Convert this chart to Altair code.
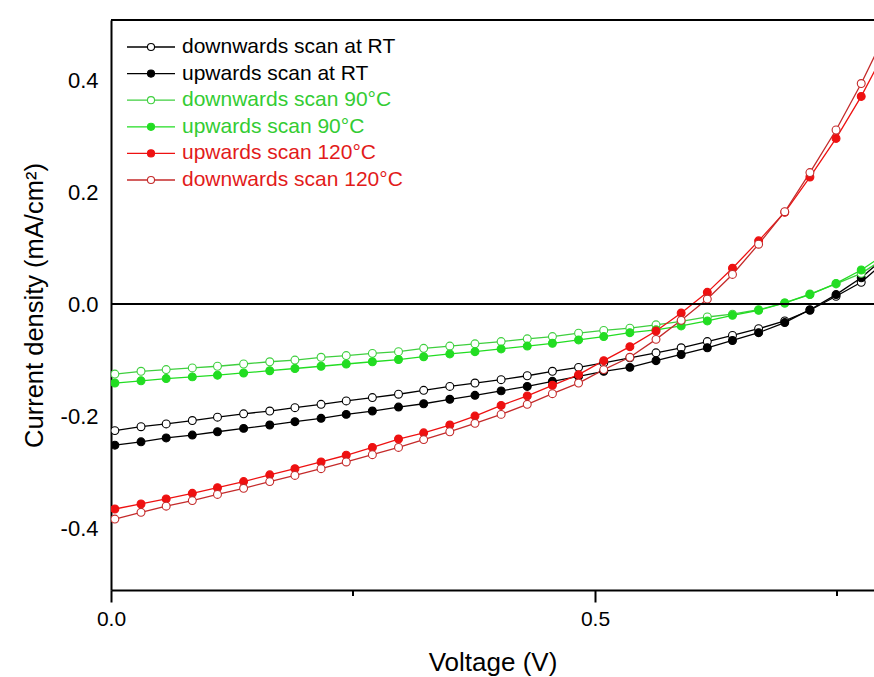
import altair as alt
import pandas as pd

# ---- data -------------------------------------------------------------------
voltage = [0.004, 0.031, 0.057, 0.084, 0.110, 0.137, 0.164, 0.190, 0.217, 0.243,
           0.270, 0.297, 0.323, 0.350, 0.376, 0.403, 0.430, 0.456, 0.483, 0.509,
           0.536, 0.563, 0.589, 0.616, 0.642, 0.669, 0.696, 0.722, 0.749, 0.775,
           0.802]

down_rt = [-0.226, -0.219, -0.214, -0.208, -0.202, -0.196, -0.191, -0.185, -0.179, -0.173,
           -0.167, -0.161, -0.154, -0.147, -0.141, -0.135, -0.128, -0.120, -0.113, -0.105,
           -0.096, -0.087, -0.078, -0.067, -0.056, -0.044, -0.030, -0.011, 0.014, 0.039,
           0.080]
up_rt = [-0.252, -0.246, -0.239, -0.234, -0.228, -0.222, -0.216, -0.210, -0.204, -0.197,
         -0.191, -0.184, -0.178, -0.170, -0.163, -0.155, -0.147, -0.138, -0.129, -0.120,
         -0.113, -0.101, -0.090, -0.078, -0.065, -0.051, -0.033, -0.010, 0.017, 0.047,
         0.088]
down_90 = [-0.125, -0.120, -0.117, -0.114, -0.111, -0.107, -0.103, -0.100, -0.095, -0.092,
           -0.088, -0.085, -0.079, -0.075, -0.071, -0.067, -0.062, -0.058, -0.052, -0.047,
           -0.043, -0.037, -0.031, -0.023, -0.018, -0.010, 0.002, 0.018, 0.036, 0.055,
           0.085]
up_90 = [-0.141, -0.137, -0.133, -0.130, -0.127, -0.123, -0.119, -0.115, -0.111, -0.107,
         -0.103, -0.099, -0.094, -0.089, -0.085, -0.080, -0.075, -0.070, -0.064, -0.058,
         -0.051, -0.046, -0.039, -0.030, -0.020, -0.011, 0.002, 0.017, 0.037, 0.061,
         0.092]
up_120 = [-0.366, -0.357, -0.348, -0.338, -0.328, -0.317, -0.305, -0.294, -0.282, -0.270,
          -0.256, -0.241, -0.230, -0.216, -0.200, -0.181, -0.164, -0.145, -0.126, -0.101,
          -0.076, -0.048, -0.016, 0.021, 0.064, 0.113, 0.164, 0.227, 0.296, 0.371,
          0.460]
down_120 = [-0.384, -0.372, -0.361, -0.351, -0.340, -0.329, -0.317, -0.306, -0.294, -0.282,
            -0.269, -0.256, -0.242, -0.228, -0.213, -0.197, -0.179, -0.160, -0.141, -0.117,
            -0.095, -0.063, -0.029, 0.009, 0.053, 0.107, 0.165, 0.235, 0.311, 0.394,
            0.490]

series_names = ["downwards scan at RT", "upwards scan at RT",
                "downwards scan 90°C", "upwards scan 90°C",
                "upwards scan 120°C", "downwards scan 120°C"]
series_values = [down_rt, up_rt, down_90, up_90, up_120, down_120]
line_colors = ["#000000", "#000000", "#3fcf3f", "#22dd22", "#ee1111", "#c42a2a"]
fill_colors = ["#ffffff", "#000000", "#ffffff", "#22dd22", "#ee1111", "#ffffff"]
text_colors = ["#000000", "#000000", "#33cc33", "#33cc33", "#e21b1b", "#e21b1b"]
x_ticks = [0.0, 0.5]
x_minor_ticks = [0.25, 0.75]
y_ticks = [-0.4, -0.2, 0.0, 0.2, 0.4]

# ---- build tables ------------------------------------------------------------
rows = []
for name, vals in zip(series_names, series_values):
    for v, j in zip(voltage, vals):
        rows.append({"series": name, "V": v, "J": j})
df = pd.DataFrame(rows)
legend_df = pd.DataFrame({"series": series_names})
minor_df = pd.DataFrame({"V": x_minor_ticks})

W, H = 763, 570
FONT = "Liberation Sans, Arial, sans-serif"

stroke_scale = alt.Scale(domain=series_names, range=line_colors)
fill_scale = alt.Scale(domain=series_names, range=fill_colors)
text_scale = alt.Scale(domain=series_names, range=text_colors)

x_enc = alt.X("V:Q",
              scale=alt.Scale(domain=[0, 0.7882], nice=False, zero=False),
              axis=alt.Axis(values=x_ticks, title="Voltage (V)", grid=False,
                            labelExpr="format(datum.value, '.1f')",
                            tickSize=12, tickWidth=2, tickColor="black",
                            domainWidth=2, domainColor="black",
                            labelFont=FONT, labelFontSize=21, labelColor="black",
                            labelPadding=6, labelFlush=False,
                            titleFont=FONT, titleFontSize=26, titleFontWeight="normal",
                            titleColor="black", titlePadding=20))
y_enc = alt.Y("J:Q",
              scale=alt.Scale(domain=[-0.5107, 0.5075], nice=False, zero=False),
              axis=alt.Axis(values=y_ticks, title="Current density (mA/cm²)", grid=False,
                            labelExpr="datum.value < 0 ? '-' + format(-datum.value, '.1f') : format(datum.value, '.1f')",
                            tickSize=0, domainWidth=2, domainColor="black",
                            labelFont=FONT, labelFontSize=22, labelColor="black",
                            labelPadding=13,
                            titleFont=FONT, titleFontSize=25.5, titleFontWeight="normal",
                            titleColor="black", titlePadding=13))

lines = alt.Chart(df).mark_line(strokeWidth=1.3, clip=True).encode(
    x=x_enc, y=y_enc,
    stroke=alt.Stroke("series:N", scale=stroke_scale, legend=None),
)
points = alt.Chart(df).mark_circle(size=62, opacity=1, strokeWidth=1.1, clip=True).encode(
    x=x_enc, y=y_enc,
    fill=alt.Fill("series:N", scale=fill_scale, legend=None),
    stroke=alt.Stroke("series:N", scale=stroke_scale, legend=None),
)
zero_line = alt.Chart(legend_df.head(1)).mark_rule(color="black", strokeWidth=2).encode(
    y=alt.datum(0)
)
minor = alt.Chart(minor_df).mark_rule(color="black", strokeWidth=2).encode(
    x=x_enc, y=alt.value(H), y2=alt.value(H + 6)
)
top_border = alt.Chart(legend_df.head(1)).mark_rule(color="black", strokeWidth=2).encode(
    x=alt.value(0), x2=alt.value(W + 2), y=alt.value(0)
)

main = alt.layer(lines, points, zero_line, minor, top_border)

leg_y = alt.Y("series:N", sort=series_names,
              scale=alt.Scale(type="point", domain=series_names, range=[27, 160], padding=0),
              axis=None)
leg_rule = alt.Chart(legend_df).mark_rule(strokeWidth=1.3).encode(
    y=leg_y, x=alt.value(16), x2=alt.value(64),
    stroke=alt.Stroke("series:N", scale=stroke_scale, legend=None),
)
leg_pts = alt.Chart(legend_df).mark_circle(size=50, opacity=1, strokeWidth=1.1).encode(
    y=leg_y, x=alt.value(40),
    fill=alt.Fill("series:N", scale=fill_scale, legend=None),
    stroke=alt.Stroke("series:N", scale=stroke_scale, legend=None),
)
leg_txt = alt.Chart(legend_df).mark_text(align="left", baseline="middle", font=FONT,
                                          fontSize=21).encode(
    y=leg_y, x=alt.value(71), text="series:N",
    color=alt.Color("series:N", scale=text_scale, legend=None),
)
legend = alt.layer(leg_rule, leg_pts, leg_txt)

chart = alt.layer(main, legend).resolve_scale(y="independent").properties(
    width=W, height=H,
    autosize=alt.AutoSizeParams(type="none"),
    padding={"left": 111, "top": 20, "right": 0, "bottom": 87},
    background="white",
).configure_view(stroke=None)

chart.save("out.html", embed_options={"renderer": "svg", "actions": False})
